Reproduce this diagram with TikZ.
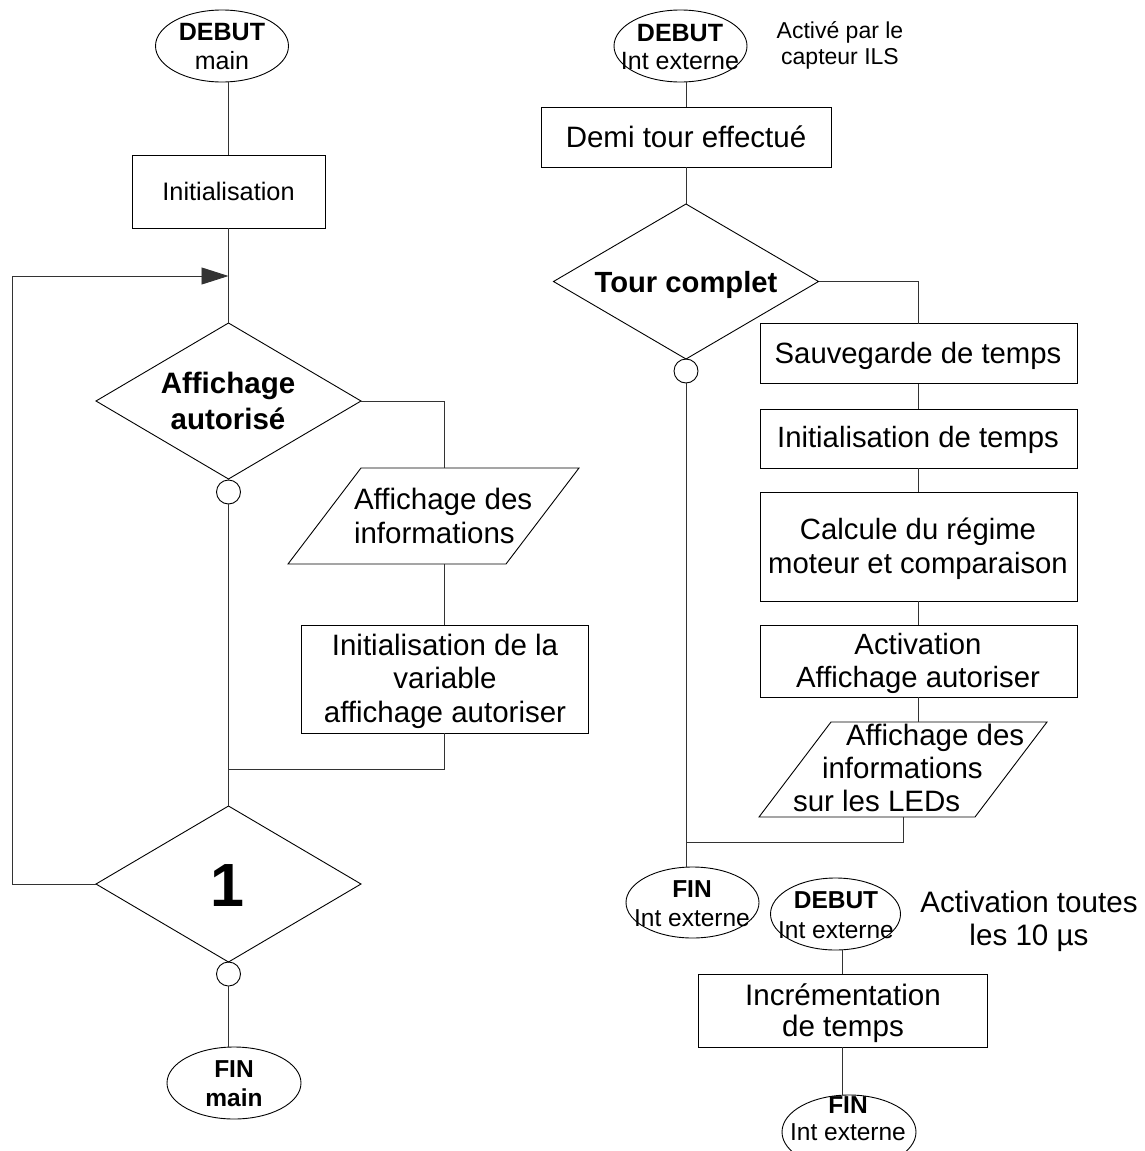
\documentclass[tikz,border=0pt]{standalone}
\usepackage{fontspec}
\setmainfont{Liberation Sans}
\usetikzlibrary{shapes.geometric,arrows.meta,calc}
\newcommand\fz[2]{\fontsize{#1pt}{#2pt}\selectfont}
\begin{document}
\begin{tikzpicture}[x=1pt,y=-1pt,line width=0.9pt,
  shp/.style={draw=black,inner sep=0pt,outer sep=0pt},
  ell/.style={shp,ellipse},
  rbox/.style={shp,rectangle},
  dia/.style={shp,diamond},
  junc/.style={shp,circle,minimum size=24pt},
  frame/.style={inner sep=0pt,outer sep=0pt,rectangle},
  txt/.style={inner sep=0pt,outer sep=0pt,align=center,text=black},
  wire/.style={draw=black!80,line width=0.9pt}]
\useasboundingbox (0,0) rectangle (1144,1151);

% ---------------- left column ----------------
\node[ell,minimum width=133pt,minimum height=72pt] (dm) at (222,46) {};
\node[txt,font=\fz{25}{28.5}] (dmt) at (222,49.5) {\strut{\bfseries DEBUT}\\\strut main};

\node[rbox,minimum width=193pt,minimum height=73pt] (init) at (228.5,191.5) {};
\node[txt,font=\fz{25.3}{29}] (initt) at (228.5,194.2) {\strut Initialisation};

\node[dia,minimum width=265pt,minimum height=156pt] (aff) at (228.5,401) {};
\node[txt,font=\fz{29.5}{36}\bfseries] (afft) at (228,403.8) {\strut Affichage\\\strut autorisé};

\node[junc] (c1) at (228.5,492) {};

\node[frame,minimum width=218pt,minimum height=96pt] (p1) at (433.5,516) {};
\draw[shp] ([xshift=36.5pt]p1.north west) -- ([xshift=36.5pt]p1.north east)
  -- ([xshift=-36.5pt]p1.south east) -- ([xshift=-36.5pt]p1.south west) -- cycle;
\node[txt,align=left,anchor=west,font=\fz{29.5}{34}] (p1t) at (354,519.2) {\strut Affichage des\\\strut informations};

\node[rbox,minimum width=287pt,minimum height=108pt] (bvar) at (444.5,679) {};
\node[txt,font=\fz{29.5}{33.5}] (bvart) at (445,681.8) {\strut Initialisation de la\\\strut variable\\\strut affichage autoriser};

\coordinate (j1) at (228.5,769);

\node[dia,minimum width=265pt,minimum height=156pt] (one) at (228.5,884) {};
\node[txt,font=\fz{61}{70}\bfseries] (onet) at (227,892) {\strut 1};

\node[junc] (c2) at (228.5,974) {};

\node[ell,minimum width=134pt,minimum height=72pt] (fm) at (234,1083) {};
\node[txt,font=\fz{24.5}{29}\bfseries] (fmt) at (234,1085.7) {\strut FIN\\\strut main};

\coordinate (lp) at (12,276);
\coordinate (ar) at (228.5,276);

% left connectors
\draw[wire] (init.north |- dm.south) -- (init.north);
\draw[wire] (init.south) -- (aff.north);
\draw[wire,-{Triangle[length=27pt,width=17pt]}] (one.west) -| (lp) -- (ar);
\draw[wire] (aff.south) -- (c1.north);
\draw[wire] (c1.south) -- (one.north);
\draw[wire] (aff.east) -| (bvar.north |- p1.north);
\draw[wire] (bvar.north |- p1.south) -- (bvar.north);
\draw[wire] (bvar.south) |- (j1);
\draw[wire] (one.south) -- (c2.north);
\draw[wire] (c2.south) -- (c2.south |- fm.north);

% ---------------- right column ----------------
\node[ell,minimum width=133pt,minimum height=72pt] (de) at (680.5,46) {};
\node[txt,font=\fz{25}{28}] (det) at (680,49.4) {\strut{\bfseries DEBUT}\\\strut Int externe};
\node[txt,font=\fz{23}{26}] (ils) at (840,45.8) {\strut Activé par le\\\strut capteur ILS};

\node[rbox,minimum width=290pt,minimum height=60pt] (demi) at (686,137) {};
\node[txt,font=\fz{29.5}{34}] (demit) at (686,140.2) {\strut Demi tour effectué};

\node[dia,minimum width=265pt,minimum height=155pt] (tc) at (686,281.5) {};
\node[txt,font=\fz{29.2}{34}\bfseries] (tct) at (686,285.2) {\strut Tour complet};

\node[junc] (c3) at (686,371) {};

\node[rbox,minimum width=317pt,minimum height=60pt] (sauv) at (918.5,353.5) {};
\node[txt,font=\fz{29.3}{34}] (sauvt) at (918,356.2) {\strut Sauvegarde de temps};

\node[rbox,minimum width=317pt,minimum height=59pt] (itemps) at (918.5,438.5) {};
\node[txt,font=\fz{29.3}{34}] (itempst) at (918,440.2) {\strut Initialisation de temps};

\node[rbox,minimum width=317pt,minimum height=109pt] (calc) at (918.5,546.5) {};
\node[txt,font=\fz{29.3}{34}] (calct) at (918,549.2) {\strut Calcule du régime\\\strut moteur et comparaison};

\node[rbox,minimum width=317pt,minimum height=72pt] (act) at (918.5,661) {};
\node[txt,font=\fz{29.3}{33}] (actt) at (918,663.9) {\strut Activation\\\strut Affichage autoriser};

\node[frame,minimum width=216pt,minimum height=95pt] (p2) at (903,769.5) {};
\draw[shp] ([xshift=36pt]p2.north west) -- ([xshift=36pt]p2.north east)
  -- ([xshift=-36pt]p2.south east) -- ([xshift=-36pt]p2.south west) -- cycle;
\node[txt,align=left,anchor=west,font=\fz{29.5}{33}] (p2t) at (793,771.4)
  {\hspace*{53pt}\strut Affichage des\\\hspace*{29pt}\strut informations\\\strut sur les LEDs};

\coordinate (j2) at (686,842);

\node[ell,minimum width=133pt,minimum height=71pt] (fin1) at (692.5,902.5) {};
\node[txt,font=\fz{24.5}{29}] (fin1t) at (692,905.7) {\strut{\bfseries FIN}\\\strut Int externe};

\node[ell,minimum width=130pt,minimum height=72pt] (deb2) at (835.5,914) {};
\node[txt,font=\fz{24.5}{30}] (deb2t) at (836,917) {\strut{\bfseries DEBUT}\\\strut Int externe};

\node[txt,font=\fz{29.6}{33}] (tens) at (1029,921.9) {\strut Activation toutes\\\strut les 10 µs};

\node[rbox,minimum width=289pt,minimum height=73pt] (inc) at (842.5,1010.5) {};
\node[txt,font=\fz{29.6}{31}] (inct) at (843,1014.3) {\strut Incrémentation\\\strut de temps};

\node[ell,minimum width=134pt,minimum height=74pt] (fin3) at (849,1132) {};
\node[txt,font=\fz{24.5}{27}] (fin3t) at (848,1121.1) {\strut{\bfseries FIN}\\\strut Int externe};

% right connectors
\draw[wire] (demi.north |- de.south) -- (demi.north);
\draw[wire] (demi.south) -- (tc.north);
\draw[wire] (tc.south) -- (c3.north);
\draw[wire] (c3.south) -- (c3.south |- fin1.north);
\draw[wire] (tc.east) -| (sauv.north);
\draw[wire] (sauv.south) -- (itemps.north);
\draw[wire] (itemps.south) -- (calc.north);
\draw[wire] (calc.south) -- (act.north);
\draw[wire] (act.south) -- (act.south |- p2.north);
\draw[wire] (p2.south) |- (j2);
\draw[wire] (inc.north |- deb2.south) -- (inc.north);
\draw[wire] (inc.south) -- (inc.south |- fin3.north);
\end{tikzpicture}
\end{document}
